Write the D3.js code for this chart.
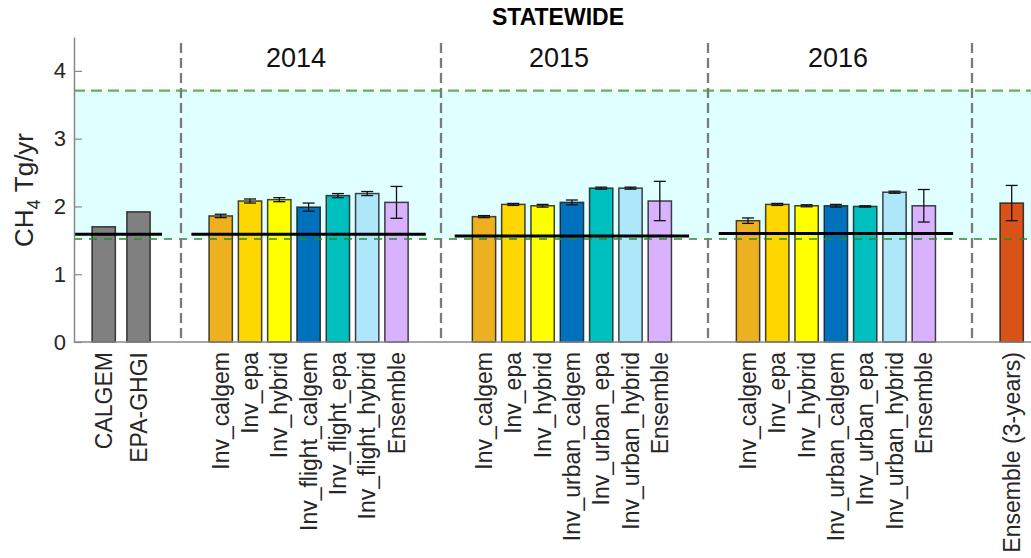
<!DOCTYPE html>
<html>
<head>
<meta charset="utf-8">
<script src="https://cdn.jsdelivr.net/npm/d3@7"></script>
<style>
  html, body { margin: 0; padding: 0; background: #fff; }
  svg { display: block; font-family: "Liberation Sans", Arial, Helvetica, sans-serif; }
</style>
</head>
<body>
<svg id="chart" width="1031" height="558"></svg>
<script>
// ---- data (CH4 emissions, Tg/yr) ----
const priorCats = ["CALGEM", "EPA-GHGI"];
const priorVals = [1.70, 1.92];

const cats2014 = ["Inv_calgem", "Inv_epa", "Inv_hybrid", "Inv_flight_calgem", "Inv_flight_epa", "Inv_flight_hybrid", "Ensemble"];
const vals2014 = [1.86, 2.08, 2.10, 1.99, 2.16, 2.19, 2.06];
const errs2014 = [0.025, 0.03, 0.03, 0.06, 0.03, 0.03, 0.235];

const cats2015 = ["Inv_calgem", "Inv_epa", "Inv_hybrid", "Inv_urban_calgem", "Inv_urban_epa", "Inv_urban_hybrid", "Ensemble"];
const vals2015 = [1.85, 2.03, 2.01, 2.06, 2.27, 2.27, 2.08];
const errs2015 = [0.015, 0.015, 0.02, 0.035, 0.015, 0.015, 0.29];

const cats2016 = ["Inv_calgem", "Inv_epa", "Inv_hybrid", "Inv_urban_calgem", "Inv_urban_epa", "Inv_urban_hybrid", "Ensemble"];
const vals2016 = [1.79, 2.03, 2.01, 2.01, 2.00, 2.21, 2.01];
const errs2016 = [0.04, 0.015, 0.015, 0.02, 0.01, 0.015, 0.24];

const catsAll = ["Ensemble (3-years)"];
const valsAll = [2.05];
const errsAll = [0.26];

// prior (reference) emission level drawn as a black line per panel
const refLevels = [1.59, 1.59, 1.565, 1.60];
// uncertainty envelope of the bottom-up estimate
const envelope = [1.52, 3.71];

const yearLabels = ["2014", "2015", "2016"];
const yTicks = [0, 1, 2, 3, 4];

const yearColors = ["#EDB120", "#FFD700", "#FFFF00", "#0072BD", "#00BFBF", "#AEE6FA", "#D9B2FF"];
const priorColor = "#808080";
const allColor = "#D95319";

// ---- layout ----
const W = 1031, H = 558;
const plot = { left: 74, right: 1031, top: 37, bottom: 342 };
const barW = 23.3;
const step = 29.3;

const svg = d3.select("#chart");
const y = d3.scaleLinear().domain([0, 4.5]).range([plot.bottom, plot.top]);

function pointScale(cats, x0, st) {
  return d3.scalePoint().domain(cats).range([x0, x0 + st * (cats.length - 1)]);
}

const groups = [
  { cats: priorCats, vals: priorVals, errs: null, colors: priorCats.map(() => priorColor), x: pointScale(priorCats, 103.7, 34.8) },
  { cats: cats2014, vals: vals2014, errs: errs2014, colors: yearColors, x: pointScale(cats2014, 220.7, step) },
  { cats: cats2015, vals: vals2015, errs: errs2015, colors: yearColors, x: pointScale(cats2015, 484.0, step) },
  { cats: cats2016, vals: vals2016, errs: errs2016, colors: yearColors, x: pointScale(cats2016, 748.0, step) },
  { cats: catsAll, vals: valsAll, errs: errsAll, colors: [allColor], x: pointScale(catsAll, 1011.7, step) }
];

const separators = [181, 441, 708, 972];
const yearLabelX = [296, 559, 838];

// ---- envelope band ----
svg.append("rect")
  .attr("x", plot.left).attr("width", plot.right - plot.left)
  .attr("y", y(envelope[1])).attr("height", y(envelope[0]) - y(envelope[1]))
  .attr("fill", "#E0FFFF");

// ---- bars ----
groups.forEach(g => {
  const data = g.cats.map((c, i) => ({ c, v: g.vals[i], e: g.errs ? g.errs[i] : null, col: g.colors[i] }));
  const gg = svg.append("g");
  gg.selectAll("rect").data(data).join("rect")
    .attr("x", d => g.x(d.c) - barW / 2)
    .attr("width", barW)
    .attr("y", d => y(d.v))
    .attr("height", d => y(0) - y(d.v))
    .attr("fill", d => d.col)
    .attr("stroke", "rgba(20,20,20,0.8)")
    .attr("stroke-width", 1.5);

  const eb = data.filter(d => d.e != null);
  const cap = 6;
  const eg = gg.selectAll("g.err").data(eb).join("g").attr("class", "err")
    .attr("stroke", "#111").attr("stroke-width", 1.3).attr("fill", "none");
  eg.append("line")
    .attr("x1", d => g.x(d.c)).attr("x2", d => g.x(d.c))
    .attr("y1", d => y(d.v - d.e)).attr("y2", d => y(d.v + d.e));
  eg.append("line")
    .attr("x1", d => g.x(d.c) - cap).attr("x2", d => g.x(d.c) + cap)
    .attr("y1", d => y(d.v - d.e)).attr("y2", d => y(d.v - d.e));
  eg.append("line")
    .attr("x1", d => g.x(d.c) - cap).attr("x2", d => g.x(d.c) + cap)
    .attr("y1", d => y(d.v + d.e)).attr("y2", d => y(d.v + d.e));
});

// ---- envelope edges ----
svg.append("line")
  .attr("x1", plot.left).attr("x2", plot.right)
  .attr("y1", y(envelope[1])).attr("y2", y(envelope[1]))
  .attr("stroke", "#5FB35F").attr("stroke-width", 2.2).attr("stroke-dasharray", "11,6");
svg.append("line")
  .attr("x1", plot.left).attr("x2", plot.right)
  .attr("y1", y(envelope[0])).attr("y2", y(envelope[0]))
  .attr("stroke", "#2A8A2A").attr("stroke-width", 1.5).attr("stroke-dasharray", "8,7");

// ---- reference lines per panel ----
const refSpans = groups.slice(0, 4).map((g, i) => {
  if (i === 0) return [plot.left, g.x(g.cats[g.cats.length - 1]) + 23.5];
  return [g.x(g.cats[0]) - step, g.x(g.cats[g.cats.length - 1]) + step];
});
svg.append("g").selectAll("line").data(refLevels).join("line")
  .attr("x1", (d, i) => refSpans[i][0]).attr("x2", (d, i) => refSpans[i][1])
  .attr("y1", d => y(d)).attr("y2", d => y(d))
  .attr("stroke", "#000").attr("stroke-width", 3);

// ---- panel separators ----
svg.append("g").selectAll("line").data(separators).join("line")
  .attr("x1", d => d).attr("x2", d => d)
  .attr("y1", 43).attr("y2", 338)
  .attr("stroke", "#7A7A7A").attr("stroke-width", 2.3).attr("stroke-dasharray", "10,5");

// ---- axes ----
const yAxis = d3.axisLeft(y).tickValues(yTicks).tickFormat(d3.format("d")).tickSizeInner(-8).tickSizeOuter(0).tickPadding(8);
const ya = svg.append("g").attr("transform", `translate(${plot.left},0)`).call(yAxis);
ya.select(".domain").attr("stroke", "#888").attr("stroke-width", 1.5);
ya.selectAll(".tick line").attr("stroke", "#888").attr("stroke-width", 1.2);
ya.selectAll(".tick text").attr("font-size", 22).attr("fill", "#262626").attr("font-family", "Liberation Sans, Arial, sans-serif");

svg.append("line")
  .attr("x1", plot.left).attr("x2", plot.right)
  .attr("y1", plot.bottom).attr("y2", plot.bottom)
  .attr("stroke", "#888").attr("stroke-width", 1.5);

// category labels
groups.forEach(g => {
  svg.append("g").selectAll("text").data(g.cats).join("text")
    .attr("transform", d => `translate(${g.x(d)},352) rotate(-90)`)
    .attr("dy", "0.35em")
    .attr("text-anchor", "end")
    .attr("font-size", 23)
    .attr("fill", "#262626")
    .text(d => d);
});

// year headers
svg.append("g").selectAll("text").data(yearLabels).join("text")
  .attr("x", (d, i) => yearLabelX[i]).attr("y", 67)
  .attr("text-anchor", "middle")
  .attr("font-size", 27)
  .attr("fill", "#111")
  .text(d => d);

// title
svg.append("text")
  .attr("x", 558).attr("y", 25)
  .attr("text-anchor", "middle")
  .attr("font-size", 23).attr("font-weight", "bold")
  .attr("fill", "#000")
  .text("STATEWIDE");

// y-axis label with subscript
const yl = svg.append("text")
  .attr("transform", "translate(33,190) rotate(-90)")
  .attr("text-anchor", "middle")
  .attr("font-size", 26)
  .attr("fill", "#262626");
yl.append("tspan").text("CH");
yl.append("tspan").attr("font-size", 18).attr("dy", 7).text("4");
yl.append("tspan").attr("dy", -7).text("\u00A0Tg/yr");
</script>
</body>
</html>
